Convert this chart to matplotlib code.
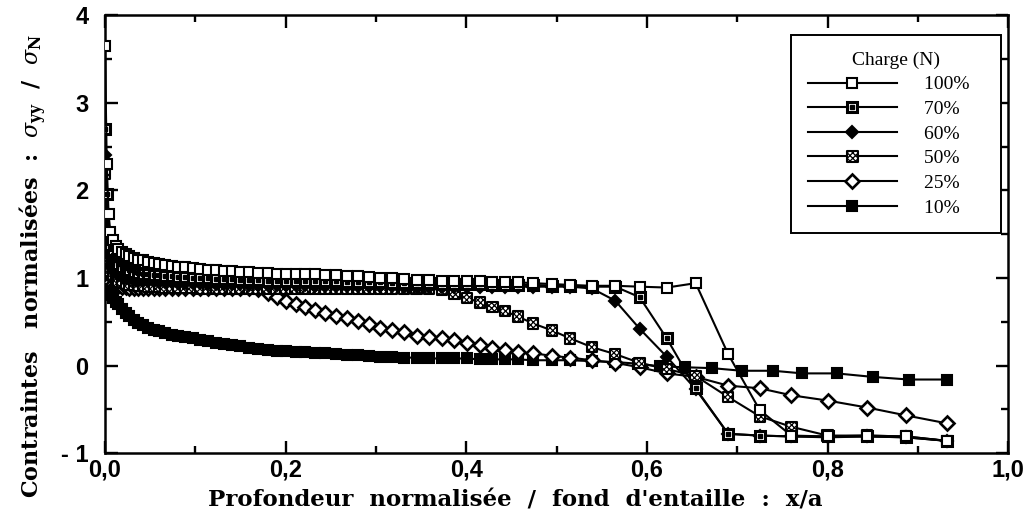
"""
plot.py
-------
Normalised stress sigma_yy / sigma_N ahead of a notch root versus the
normalised depth x/a, for six load levels (percent of the max load).

Run:
    python3 plot.py
"""

import matplotlib

matplotlib.use("Agg")

import matplotlib.pyplot as plt
from matplotlib.ticker import FixedLocator, MultipleLocator

# ---------------------------------------------------------------------------
# Data
# ---------------------------------------------------------------------------

# FE node positions shared by all load levels up to x/a = 0.565
X_NEAR = [
    0.000, 0.002, 0.004, 0.006, 0.009, 0.012, 0.015, 0.019, 0.023, 0.027,
    0.032, 0.037, 0.042, 0.048, 0.054, 0.060, 0.067, 0.074, 0.081, 0.089,
    0.097, 0.105, 0.114, 0.123, 0.132, 0.141, 0.150, 0.160, 0.170, 0.180,
    0.190, 0.200, 0.211, 0.222, 0.233, 0.244, 0.256, 0.268, 0.280, 0.292,
    0.305, 0.318, 0.331, 0.345, 0.359, 0.373, 0.387, 0.401, 0.415, 0.429,
    0.443, 0.457, 0.474, 0.495, 0.515, 0.539, 0.565,
]
# coarser nodes further from the notch
X_TAIL = [0.592, 0.622, 0.654, 0.690, 0.725, 0.760, 0.800, 0.844, 0.887, 0.932]
# the 10% run sits on slightly shifted nodes in the tail
X_TAIL_10 = [0.590, 0.615, 0.642, 0.672, 0.705, 0.740, 0.772, 0.810, 0.850,
             0.890, 0.932]

Y_100 = [
    3.65, 2.30, 1.73, 1.52, 1.43, 1.37, 1.33, 1.30, 1.27, 1.25,
    1.23, 1.21, 1.20, 1.18, 1.17, 1.16, 1.15, 1.14, 1.13, 1.12,
    1.11, 1.10, 1.09, 1.09, 1.08, 1.08, 1.07, 1.07, 1.06, 1.06,
    1.05, 1.05, 1.05, 1.04, 1.04, 1.03, 1.03, 1.02, 1.02, 1.01,
    1.00, 1.00, 0.99, 0.98, 0.98, 0.97, 0.97, 0.96, 0.96, 0.95,
    0.95, 0.95, 0.94, 0.93, 0.92, 0.91, 0.91,
    0.90, 0.89, 0.94, 0.13, -0.51, -0.80, -0.81, -0.80, -0.81, -0.86,
]
Y_70 = [
    2.70, 1.96, 1.50, 1.35, 1.26, 1.20, 1.16, 1.13, 1.11, 1.09,
    1.07, 1.06, 1.05, 1.04, 1.03, 1.03, 1.02, 1.02, 1.01, 1.01,
    1.00, 1.00, 1.00, 0.99, 0.99, 0.99, 0.98, 0.98, 0.98, 0.97,
    0.97, 0.97, 0.97, 0.96, 0.96, 0.96, 0.96, 0.95, 0.95, 0.95,
    0.95, 0.94, 0.94, 0.94, 0.94, 0.93, 0.93, 0.93, 0.93, 0.92,
    0.92, 0.92, 0.92, 0.91, 0.91, 0.90, 0.90,
    0.78, 0.31, -0.26, -0.78, -0.80, -0.81, -0.81, -0.81, -0.82, -0.86,
]
Y_60 = [
    2.40, 1.55, 1.25, 1.15, 1.10, 1.06, 1.04, 1.02, 1.00, 0.99,
    0.98, 0.97, 0.97, 0.96, 0.96, 0.95, 0.95, 0.95, 0.94, 0.94,
    0.94, 0.94, 0.93, 0.93, 0.93, 0.93, 0.93, 0.92, 0.92, 0.92,
    0.92, 0.92, 0.92, 0.92, 0.91, 0.91, 0.91, 0.91, 0.91, 0.91,
    0.91, 0.91, 0.90, 0.90, 0.90, 0.90, 0.90, 0.90, 0.90, 0.90,
    0.90, 0.90, 0.90, 0.90, 0.90, 0.88, 0.74,
    0.42, 0.10, -0.27, -0.78, -0.80, -0.81, -0.82, -0.81, -0.82, -0.86,
]
Y_50 = [
    2.19, 1.45, 1.20, 1.08, 1.02, 0.98, 0.96, 0.94, 0.93, 0.92,
    0.92, 0.91, 0.91, 0.90, 0.90, 0.90, 0.89, 0.89, 0.89, 0.89,
    0.89, 0.88, 0.88, 0.88, 0.88, 0.88, 0.88, 0.88, 0.88, 0.88,
    0.88, 0.88, 0.88, 0.88, 0.88, 0.88, 0.88, 0.88, 0.88, 0.88,
    0.88, 0.88, 0.88, 0.88, 0.88, 0.86, 0.82, 0.77, 0.72, 0.67,
    0.62, 0.56, 0.48, 0.40, 0.31, 0.21, 0.13,
    0.03, -0.04, -0.12, -0.36, -0.58, -0.70, -0.80, -0.80, -0.81, -0.86,
]
Y_25 = [
    1.15, 1.05, 0.98, 0.95, 0.93, 0.92, 0.91, 0.90, 0.90, 0.89,
    0.89, 0.89, 0.88, 0.88, 0.88, 0.88, 0.88, 0.88, 0.88, 0.88,
    0.88, 0.88, 0.88, 0.88, 0.88, 0.88, 0.88, 0.88, 0.87, 0.83,
    0.78, 0.74, 0.70, 0.67, 0.63, 0.60, 0.57, 0.54, 0.51, 0.47,
    0.43, 0.40, 0.38, 0.34, 0.32, 0.31, 0.29, 0.26, 0.23, 0.20,
    0.18, 0.15, 0.14, 0.11, 0.09, 0.06, 0.03,
    -0.02, -0.09, -0.13, -0.23, -0.26, -0.34, -0.40, -0.48, -0.57, -0.66,
]
Y_10 = [
    0.85, 0.84, 0.82, 0.80, 0.77, 0.73, 0.70, 0.65, 0.60, 0.56,
    0.52, 0.49, 0.46, 0.43, 0.41, 0.39, 0.37, 0.35, 0.34, 0.32,
    0.31, 0.29, 0.28, 0.26, 0.25, 0.23, 0.22, 0.20, 0.19, 0.18,
    0.17, 0.16, 0.15, 0.15, 0.14, 0.14, 0.13, 0.12, 0.12, 0.11,
    0.10, 0.10, 0.09, 0.09, 0.08, 0.08, 0.08, 0.08, 0.07, 0.07,
    0.07, 0.07, 0.06, 0.06, 0.06, 0.05, 0.04,
    0.02, -0.01, -0.02, -0.03, -0.06, -0.06, -0.09, -0.09, -0.13, -0.16, -0.16,
]

LOAD_LABELS = ["100%", "70%", "60%", "50%", "25%", "10%"]

X_TICKS = [0.0, 0.2, 0.4, 0.6, 0.8, 1.0]
X_TICK_LABELS = ["0,0", "0,2", "0,4", "0,6", "0,8", "1,0"]
Y_TICKS = [-1, 0, 1, 2, 3, 4]
Y_TICK_LABELS = ["- 1", "0", "1", "2", "3", "4"]

# ---------------------------------------------------------------------------
# Style
# ---------------------------------------------------------------------------

INK = "black"
LW = 1.5
MS = 7.5
MEW = 1.5
SERIF = ["Liberation Serif", "DejaVu Serif"]
LABEL_SERIF = ["DejaVu Serif"]
SANS = ["Liberation Sans", "DejaVu Sans"]


def main() -> None:
    plt.rcParams["mathtext.fontset"] = "dejavuserif"
    plt.rcParams["hatch.linewidth"] = 0.9

    fig = plt.figure(figsize=(10.34, 5.22), dpi=100)
    ax = fig.add_axes([0.1015, 0.132, 0.8735, 0.839])

    x_all = X_NEAR + X_TAIL
    x_10 = X_NEAR + X_TAIL_10

    # 10% : filled squares
    l10, = ax.plot(x_10, Y_10, color=INK, lw=LW, marker="s", ms=MS,
                   mfc=INK, mec=INK, mew=MEW, zorder=2)
    # 25% : open diamonds
    l25, = ax.plot(x_all, Y_25, color=INK, lw=LW, marker="D", ms=MS - 0.8,
                   mfc="white", mec=INK, mew=MEW + 0.4, zorder=3)
    # 50% : hatched squares (line + hatched scatter on top)
    l50, = ax.plot(x_all, Y_50, color=INK, lw=LW, zorder=4)
    s50 = ax.scatter(x_all, Y_50, marker="s", s=MS ** 2, facecolor="white",
                     edgecolor=INK, linewidth=MEW, hatch="xxxxxx", zorder=4.1)
    # 60% : filled diamonds
    l60, = ax.plot(x_all, Y_60, color=INK, lw=LW, marker="D", ms=MS - 1.3,
                   mfc=INK, mec=INK, mew=MEW, zorder=5)
    # 70% : square with a dot in the middle
    l70, = ax.plot(x_all, Y_70, color=INK, lw=LW, marker="s", ms=MS,
                   mfc="white", mec=INK, mew=MEW + 0.7, zorder=6)
    d70, = ax.plot(x_all, Y_70, ls="none", marker="s", ms=2.4,
                   mfc=INK, mec=INK, zorder=6.1)
    # 100% : open squares
    l100, = ax.plot(x_all, Y_100, color=INK, lw=LW, marker="s", ms=MS,
                    mfc="white", mec=INK, mew=MEW, zorder=7)

    ax.set_xlim(0.0, 1.0)
    ax.set_ylim(-1.0, 4.0)

    ax.xaxis.set_major_locator(FixedLocator(X_TICKS))
    ax.set_xticklabels(X_TICK_LABELS)
    ax.xaxis.set_minor_locator(MultipleLocator(0.1))
    ax.yaxis.set_major_locator(FixedLocator(Y_TICKS))
    ax.set_yticklabels(Y_TICK_LABELS)
    ax.yaxis.set_minor_locator(MultipleLocator(0.5))

    ax.tick_params(which="both", direction="in", top=True, right=True,
                   width=1.7, color=INK)
    ax.tick_params(which="major", length=9)
    ax.tick_params(which="minor", length=5)
    ax.tick_params(axis="x", which="major", pad=4)
    ax.tick_params(axis="y", which="major", pad=12)
    for lab in ax.get_xticklabels() + ax.get_yticklabels():
        lab.set_family(SANS)
        lab.set_fontweight("bold")
        lab.set_fontsize(17)

    for side in ax.spines.values():
        side.set_linewidth(1.8)

    fig.text(0.498, 0.041,
             "Profondeur  normalisée  /  fond  d'entaille  :  x/a",
             ha="center", va="center", family=LABEL_SERIF, fontweight="bold",
             fontsize=16.5)
    fig.text(0.032, 0.49,
             r"Contraintes   normalisées  :  $\sigma_{\mathbf{yy}}$  /  "
             r"$\sigma_{\mathbf{N}}$",
             rotation=90, ha="center", va="center", family=LABEL_SERIF,
             fontweight="bold", fontsize=16)

    handles = [l100, (l70, d70), l60, (l50, s50), l25, l10]
    labels = [lab + "   " for lab in LOAD_LABELS]
    leg = ax.legend(
        handles, labels,
        title="Charge (N)",
        loc="upper right",
        bbox_to_anchor=(1001 / 1034, 1 - 35 / 522),
        bbox_transform=fig.transFigure,
        prop={"family": SERIF, "size": 14},
        title_fontproperties={"family": SERIF, "size": 14},
        frameon=True, fancybox=False, framealpha=1.0,
        edgecolor=INK, borderpad=0.85, labelspacing=0.36,
        handlelength=4.6, handletextpad=1.4, scatteryoffsets=[0.5],
        borderaxespad=0.0,
    )
    leg.get_frame().set_linewidth(1.4)
    leg.set_zorder(10)

    fig.savefig("out.png", dpi=100)
    plt.close(fig)


if __name__ == "__main__":
    main()
